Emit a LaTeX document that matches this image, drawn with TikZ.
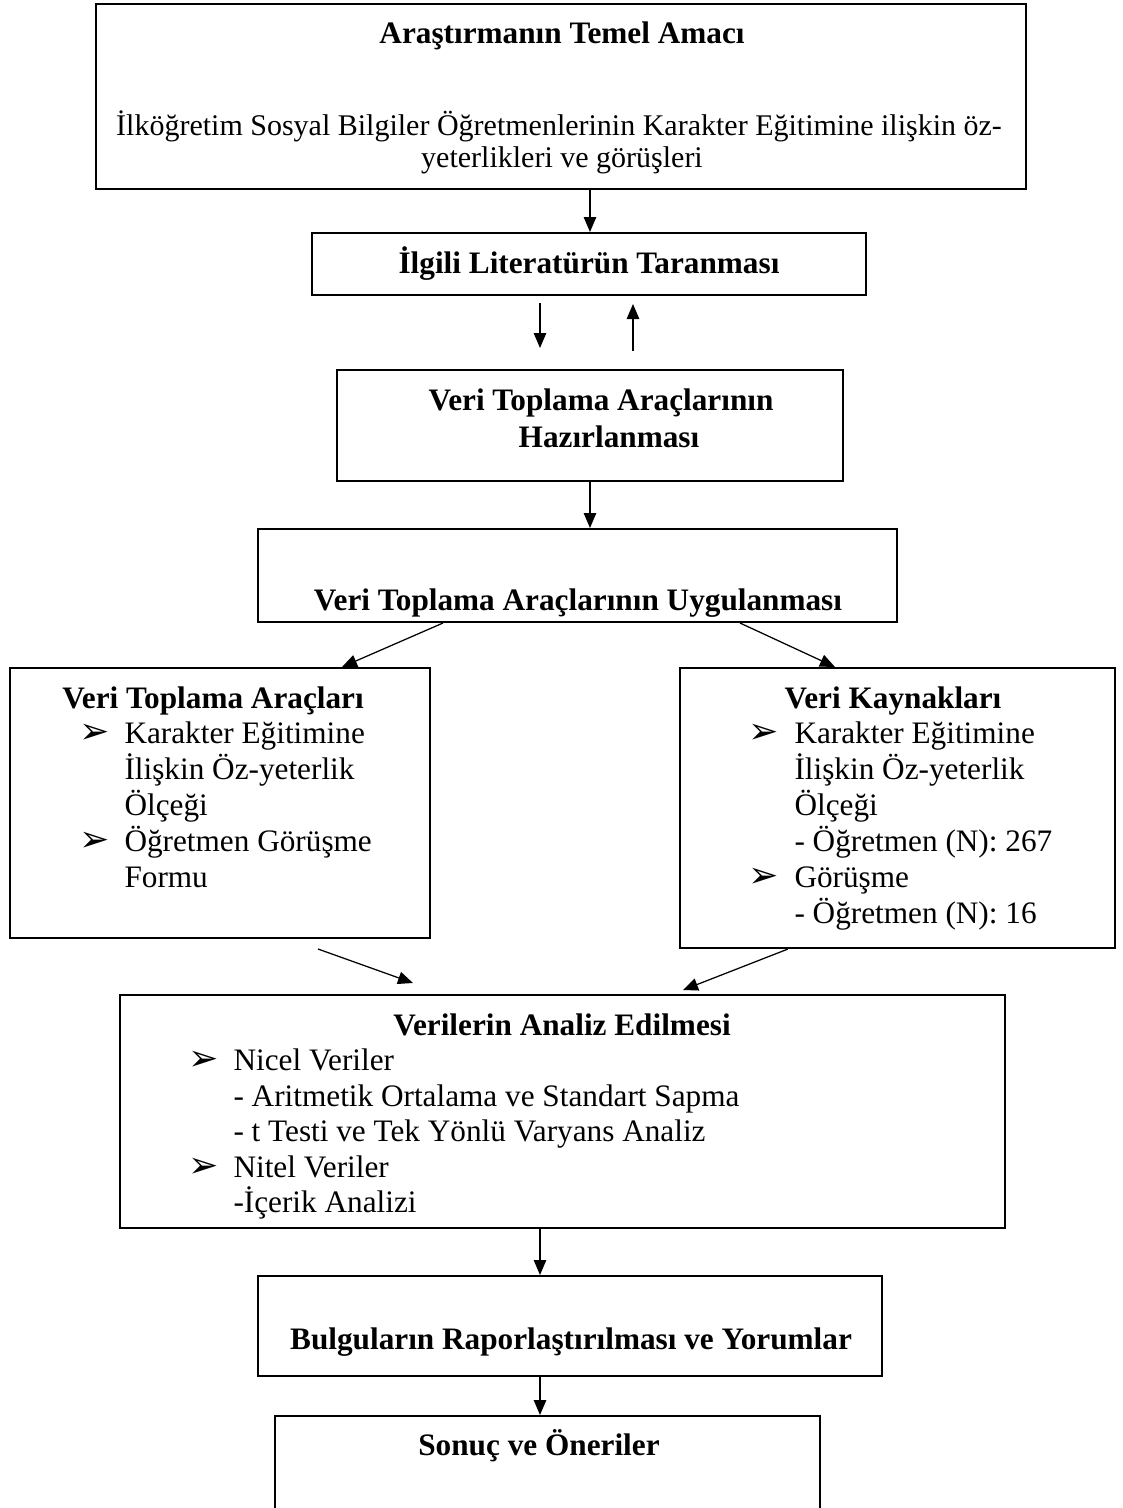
\documentclass[tikz,border=0pt]{standalone}
\usepackage{fontspec}
\setmainfont{Liberation Serif}
\newfontfamily\dejavu{DejaVu Sans}
\usetikzlibrary{arrows.meta, fit}

\newcommand{\isaret}{{\dejavu\fontsize{14.5}{15}\selectfont ➢}}

\begin{document}
\begin{tikzpicture}[x=0.4pt, y=-0.4pt,
  kutu/.style={draw, line width=0.8pt, inner sep=0pt},
  okcizgi/.style={-{Triangle[length=6pt,width=5pt]}, line width=0.5pt},
  baslik/.style={anchor=base, inner sep=0pt, font=\fontsize{12.5}{14}\selectfont\bfseries},
  duz/.style={anchor=base, inner sep=0pt, font=\fontsize{12}{14}\selectfont},
  yazi/.style={anchor=base west, inner sep=0pt, font=\fontsize{12.5}{14}\selectfont},
  madde/.style={anchor=base west, inner sep=0pt}]
\useasboundingbox (0,0) rectangle (1123,1508);

% kutular
\node[kutu, fit={(96,4) (1026,189)}] (amac) {};
\node[kutu, fit={(312,233) (866,295)}] (lit) {};
\node[kutu, fit={(337,370) (843,481)}] (haz) {};
\node[kutu, fit={(258,529) (897,622)}] (uyg) {};
\node[kutu, fit={(10,668) (430,938)}] (arac) {};
\node[kutu, fit={(680,668) (1115,948)}] (kaynak) {};
\node[kutu, fit={(120,995) (1005,1228)}] (analiz) {};
\node[kutu, fit={(258,1276) (882,1376)}] (bulgu) {};
\node[kutu, fit={(275,1416) (820,1530)}] (sonuc) {};

% metinler
\node[baslik] (amacbas) at (562,43) {Araştırmanın Temel Amacı};
\node[duz] (amac1) at (559,135) {İlköğretim Sosyal Bilgiler Öğretmenlerinin Karakter Eğitimine ilişkin öz-};
\node[duz] (amac2) at (562,167) {yeterlikleri ve görüşleri};

\node[baslik] (litbas) at (589,273) {İlgili Literatürün Taranması};

\node[baslik] (hazbas1) at (601,410) {Veri Toplama Araçlarının};
\node[baslik] (hazbas2) at (609,447) {Hazırlanması};

\node[baslik] (uygbas) at (578,610) {Veri Toplama Araçlarının Uygulanması};

\node[baslik] (aracbas) at (213,708) {Veri Toplama Araçları};
\node[madde] (aracm1) at (79,743) {\isaret};
\node[yazi] (arac1) at (124,743) {Karakter Eğitimine};
\node[yazi] (arac2) at (124,779) {İlişkin Öz-yeterlik};
\node[yazi] (arac3) at (124,815) {Ölçeği};
\node[madde] (aracm2) at (79,851) {\isaret};
\node[yazi] (arac4) at (124,851) {Öğretmen Görüşme};
\node[yazi] (arac5) at (124,887) {Formu};

\node[baslik] (kaynakbas) at (893,708) {Veri Kaynakları};
\node[madde] (kaynakm1) at (748,743) {\isaret};
\node[yazi] (kaynak1) at (794,743) {Karakter Eğitimine};
\node[yazi] (kaynak2) at (794,779) {İlişkin Öz-yeterlik};
\node[yazi] (kaynak3) at (794,815) {Ölçeği};
\node[yazi] (kaynak4) at (794,851) {- Öğretmen (N): 267};
\node[madde] (kaynakm2) at (748,887) {\isaret};
\node[yazi] (kaynak5) at (794,887) {Görüşme};
\node[yazi] (kaynak6) at (794,923) {- Öğretmen (N): 16};

\node[baslik] (analizbas) at (562,1035) {Verilerin Analiz Edilmesi};
\node[madde] (analizm1) at (188,1070) {\isaret};
\node[yazi] (analiz1) at (233,1070) {Nicel Veriler};
\node[yazi] (analiz2) at (233,1106) {- Aritmetik Ortalama ve Standart Sapma};
\node[yazi] (analiz3) at (233,1141) {- t Testi ve Tek Yönlü Varyans Analiz};
\node[madde] (analizm2) at (188,1177) {\isaret};
\node[yazi] (analiz4) at (233,1177) {Nitel Veriler};
\node[yazi] (analiz5) at (233,1212) {-İçerik Analizi};

\node[baslik] (bulgubas) at (571,1349) {Bulguların Raporlaştırılması ve Yorumlar};
\node[baslik] (sonucbas) at (539,1455) {Sonuç ve Öneriler};

% oklar
\coordinate (litalt1) at (540,303);
\coordinate (hazust1) at (540,348);
\coordinate (hazust2) at (633,351);
\coordinate (litalt2) at (633,304);
\coordinate (aracalt) at (318,949);
\coordinate (analizust1) at (413,983);
\coordinate (analizust2) at (683,990);

\draw[okcizgi] (amac.south -| 590,0) -- (lit.north -| 590,0);
\draw[okcizgi] (litalt1) -- (hazust1);
\draw[okcizgi] (hazust2) -- (litalt2);
\draw[okcizgi] (haz.south -| 590,0) -- (uyg.north -| 590,0);
\draw[okcizgi] (uyg.south -| 443,0) -- (arac.north -| 342,0);
\draw[okcizgi] (uyg.south -| 740,0) -- (kaynak.north -| 835,0);
\draw[okcizgi] (aracalt) -- (analizust1);
\draw[okcizgi] (kaynak.south -| 788,0) -- (analizust2);
\draw[okcizgi] (analiz.south -| 540,0) -- (bulgu.north -| 540,0);
\draw[okcizgi] (bulgu.south -| 540,0) -- (sonuc.north -| 540,0);
\end{tikzpicture}
\end{document}
